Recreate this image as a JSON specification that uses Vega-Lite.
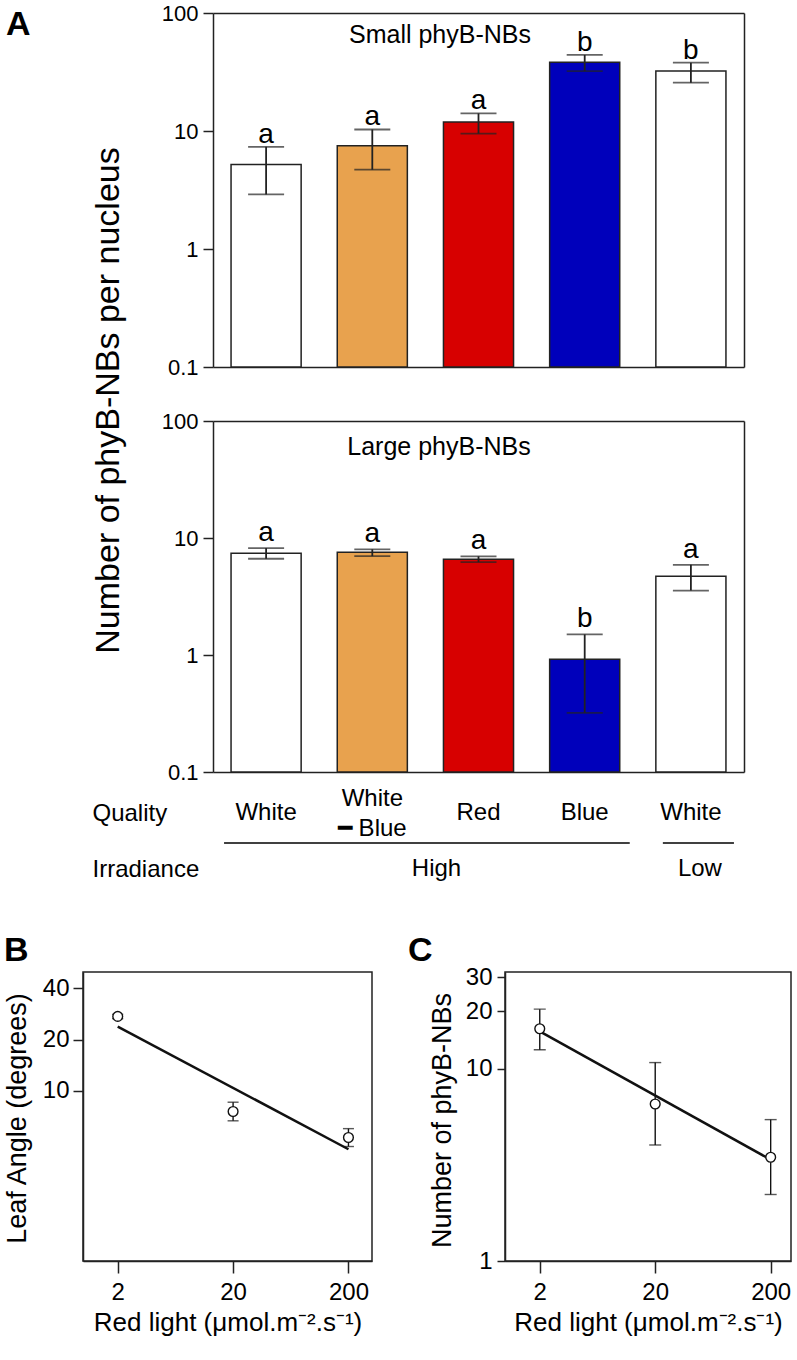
{
  "$schema": "https://vega.github.io/schema/vega-lite/v6.json",
  "background": "white",
  "padding": {"left": 2, "top": 2, "right": 5, "bottom": 5},
  "spacing": 54,
  "bounds": "flush",
  "datasets": {
    "small": [
      {"cond": "White (High)", "mean": 5.2, "lo": 2.9, "hi": 7.35, "letter": "a"},
      {"cond": "White−Blue", "mean": 7.5, "lo": 4.7, "hi": 10.3, "letter": "a"},
      {"cond": "Red", "mean": 11.9, "lo": 9.5, "hi": 14.1, "letter": "a"},
      {"cond": "Blue", "mean": 38.2, "lo": 32.2, "hi": 44.1, "letter": "b"},
      {"cond": "White (Low)", "mean": 32.2, "lo": 25.7, "hi": 37.9, "letter": "b"}
    ],
    "large": [
      {"cond": "White (High)", "mean": 7.4, "lo": 6.65, "hi": 8.2, "letter": "a"},
      {"cond": "White−Blue", "mean": 7.55, "lo": 7.0, "hi": 8.0, "letter": "a"},
      {"cond": "Red", "mean": 6.58, "lo": 6.23, "hi": 6.97, "letter": "a"},
      {"cond": "Blue", "mean": 0.92, "lo": 0.32, "hi": 1.5, "letter": "b"},
      {"cond": "White (Low)", "mean": 4.7, "lo": 3.55, "hi": 5.9, "letter": "a"}
    ],
    "quality": [
      {"row": "Quality", "cond": "White (High)", "label": "White"},
      {"row": "Quality", "cond": "White−Blue", "label": "White\n━ Blue"},
      {"row": "Quality", "cond": "Red", "label": "Red"},
      {"row": "Quality", "cond": "Blue", "label": "Blue"},
      {"row": "Quality", "cond": "White (Low)", "label": "White"}
    ],
    "leaf": [
      {"light": 2, "angle": 27.4, "lo": 26.6, "hi": 28.2},
      {"light": 20, "angle": 7.57, "lo": 6.67, "hi": 8.58},
      {"light": 200, "angle": 5.32, "lo": 4.71, "hi": 6.0}
    ],
    "leaffit": [
      {"light": 2, "angle": 23.9},
      {"light": 200, "angle": 4.54}
    ],
    "nbs": [
      {"light": 2, "n": 16.2, "lo": 12.6, "hi": 20.5},
      {"light": 20, "n": 6.57, "lo": 4.02, "hi": 10.8},
      {"light": 200, "n": 3.47, "lo": 2.22, "hi": 5.45}
    ],
    "nbsfit": [
      {"light": 2, "n": 15.7},
      {"light": 200, "n": 3.37}
    ]
  },
  "vconcat": [
    {
      "width": 661, "height": 354,
      "view": {"stroke": null},
      "data": {"name": "small"},
      "resolve": {"axis": {"x": "independent", "y": "independent"}},
      "layer": [
        {
          "mark": {"type": "bar", "stroke": "#222", "strokeWidth": 1.5},
          "encoding": {
            "x": {"field": "cond", "type": "nominal", "sort": null, "scale": {"domain": ["White (High)", "White−Blue", "Red", "Blue", "White (Low)"], "range": [130, 661], "paddingInner": 0.34, "paddingOuter": 0.17},
              "axis": {"orient": "bottom", "domain": true, "ticks": false, "labels": false, "title": null}},
            "y": {"field": "mean", "type": "quantitative", "scale": {"type": "log", "domain": [0.1, 100], "nice": false},
              "axis": {"orient": "left", "offset": -130, "values": [0.1, 1, 10, 100], "format": "~g", "tickSize": 10, "labelFontSize": 22, "labelPadding": 5,
                "title": "Number of phyB-NBs per nucleus", "titleFontSize": 34, "titleFontWeight": "normal", "titleColor": "black",
                "titleX": -95, "titleY": 387, "titleBaseline": "alphabetic", "titleAngle": 270, "titleAlign": "center"}},
            "y2": {"datum": 0.1},
            "fill": {"field": "cond", "type": "nominal", "scale": {"domain": ["White (High)", "White−Blue", "Red", "Blue", "White (Low)"], "range": ["#ffffff", "#E8A24E", "#D70000", "#0000BB", "#ffffff"]}, "legend": null}
          }
        },
        {
          "mark": {"type": "rule", "color": "#222", "strokeWidth": 1.8},
          "encoding": {
            "x": {"field": "cond", "type": "nominal", "sort": null, "axis": {"orient": "top", "domain": true, "ticks": false, "labels": false, "title": null}},
            "y": {"field": "lo", "type": "quantitative", "axis": {"orient": "right", "domain": true, "ticks": false, "labels": false, "title": null}},
            "y2": {"field": "hi"}
          }
        },
        {
          "mark": {"type": "tick", "orient": "horizontal", "size": 36, "thickness": 1.8, "color": "#222"},
          "encoding": {
            "x": {"field": "cond", "type": "nominal", "sort": null, "axis": null},
            "y": {"field": "hi", "type": "quantitative", "axis": null}
          }
        },
        {
          "mark": {"type": "tick", "orient": "horizontal", "size": 36, "thickness": 1.8, "color": "#222"},
          "encoding": {
            "x": {"field": "cond", "type": "nominal", "sort": null, "axis": null},
            "y": {"field": "lo", "type": "quantitative", "axis": null}
          }
        },
        {
          "mark": {"type": "text", "fontSize": 28, "baseline": "alphabetic", "yOffset": -4, "color": "black"},
          "encoding": {
            "x": {"field": "cond", "type": "nominal", "sort": null, "axis": null},
            "y": {"field": "hi", "type": "quantitative", "axis": null},
            "text": {"field": "letter"}
          }
        },
        {
          "data": {"values": [{"t": "Small phyB-NBs"}]},
          "mark": {"type": "text", "fontSize": 25, "baseline": "alphabetic", "align": "center", "xOffset": -38.5, "yOffset": 30.3, "color": "black"},
          "encoding": {
            "x": {"datum": "Red", "type": "nominal", "axis": null},
            "y": {"datum": 100, "type": "quantitative", "axis": null},
            "text": {"field": "t"}
          }
        },
        {
          "data": {"values": [{"t": "A"}]},
          "mark": {"type": "text", "fontSize": 34, "fontWeight": "bold", "baseline": "top", "align": "left", "xOffset": -260, "yOffset": -5.5, "color": "black"},
          "encoding": {
            "x": {"datum": "White (High)", "type": "nominal", "axis": null},
            "y": {"datum": 100, "type": "quantitative", "axis": null},
            "text": {"field": "t"}
          }
        }
      ]
    },
    {
      "width": 661, "height": 351,
      "view": {"stroke": null},
      "data": {"name": "large"},
      "resolve": {"axis": {"x": "independent", "y": "independent"}},
      "layer": [
        {
          "mark": {"type": "bar", "stroke": "#222", "strokeWidth": 1.5},
          "encoding": {
            "x": {"field": "cond", "type": "nominal", "sort": null, "scale": {"domain": ["White (High)", "White−Blue", "Red", "Blue", "White (Low)"], "range": [130, 661], "paddingInner": 0.34, "paddingOuter": 0.17},
              "axis": {"orient": "bottom", "domain": true, "ticks": false, "labels": false, "title": null}},
            "y": {"field": "mean", "type": "quantitative", "scale": {"type": "log", "domain": [0.1, 100], "nice": false},
              "axis": {"orient": "left", "offset": -130, "values": [0.1, 1, 10, 100], "format": "~g", "tickSize": 10, "labelFontSize": 22, "labelPadding": 5, "title": null}},
            "y2": {"datum": 0.1},
            "fill": {"field": "cond", "type": "nominal", "scale": {"domain": ["White (High)", "White−Blue", "Red", "Blue", "White (Low)"], "range": ["#ffffff", "#E8A24E", "#D70000", "#0000BB", "#ffffff"]}, "legend": null}
          }
        },
        {
          "mark": {"type": "rule", "color": "#222", "strokeWidth": 1.8},
          "encoding": {
            "x": {"field": "cond", "type": "nominal", "sort": null, "axis": {"orient": "top", "domain": true, "ticks": false, "labels": false, "title": null}},
            "y": {"field": "lo", "type": "quantitative", "axis": {"orient": "right", "domain": true, "ticks": false, "labels": false, "title": null}},
            "y2": {"field": "hi"}
          }
        },
        {
          "mark": {"type": "tick", "orient": "horizontal", "size": 36, "thickness": 1.8, "color": "#222"},
          "encoding": {
            "x": {"field": "cond", "type": "nominal", "sort": null, "axis": null},
            "y": {"field": "hi", "type": "quantitative", "axis": null}
          }
        },
        {
          "mark": {"type": "tick", "orient": "horizontal", "size": 36, "thickness": 1.8, "color": "#222"},
          "encoding": {
            "x": {"field": "cond", "type": "nominal", "sort": null, "axis": null},
            "y": {"field": "lo", "type": "quantitative", "axis": null}
          }
        },
        {
          "mark": {"type": "text", "fontSize": 28, "baseline": "alphabetic", "yOffset": -7, "color": "black"},
          "encoding": {
            "x": {"field": "cond", "type": "nominal", "sort": null, "axis": null},
            "y": {"field": "hi", "type": "quantitative", "axis": null},
            "text": {"field": "letter"}
          }
        },
        {
          "data": {"values": [{"t": "Large phyB-NBs"}]},
          "mark": {"type": "text", "fontSize": 25, "baseline": "alphabetic", "align": "center", "xOffset": -39.5, "yOffset": 34, "color": "black"},
          "encoding": {
            "x": {"datum": "Red", "type": "nominal", "axis": null},
            "y": {"datum": 100, "type": "quantitative", "axis": null},
            "text": {"field": "t"}
          }
        }
      ]
    },
    {
      "width": 661, "height": 92,
      "view": {"stroke": null},
      "layer": [
        {
          "data": {"name": "quality"},
          "transform": [{"filter": "datum.cond !== 'White−Blue'"}],
          "mark": {"type": "text", "fontSize": 24, "baseline": "middle", "color": "black"},
          "encoding": {
            "x": {"field": "cond", "type": "nominal", "sort": null, "scale": {"domain": ["White (High)", "White−Blue", "Red", "Blue", "White (Low)"], "range": [130, 661], "paddingInner": 0.34, "paddingOuter": 0.17}, "axis": null},
            "y": {"field": "row", "type": "nominal", "scale": {"type": "point", "domain": ["Quality", "Irradiance"], "range": [-13, 43], "padding": 0},
              "axis": {"domain": false, "ticks": false, "tickSize": 0, "offset": -9, "labelAlign": "left", "labelPadding": 0, "labelFontSize": 24, "labelColor": "black", "labelBaseline": "middle", "title": null, "grid": false}},
            "text": {"field": "label"}
          }
        },
        {
          "data": {"name": "quality"},
          "transform": [{"filter": "datum.cond === 'White−Blue'"}],
          "mark": {"type": "text", "fontSize": 24, "baseline": "middle", "lineBreak": "\n", "lineHeight": 30, "yOffset": -14, "color": "black"},
          "encoding": {
            "x": {"field": "cond", "type": "nominal", "sort": null},
            "y": {"field": "row", "type": "nominal"},
            "text": {"field": "label"}
          }
        },
        {
          "data": {"values": [{"group": "High", "start": "White (High)", "end": "Blue"}]},
          "mark": {"type": "rule", "color": "black", "strokeWidth": 1.5, "xOffset": -7, "x2Offset": 10, "yOffset": 30},
          "encoding": {
            "x": {"field": "start", "type": "nominal", "bandPosition": 0},
            "x2": {"field": "end", "bandPosition": 1},
            "y": {"datum": "Quality", "type": "nominal"}
          }
        },
        {
          "data": {"values": [{"group": "Low", "start": "White (Low)", "end": "White (Low)"}]},
          "mark": {"type": "rule", "color": "black", "strokeWidth": 1.5, "xOffset": 7, "x2Offset": 8, "yOffset": 30},
          "encoding": {
            "x": {"field": "start", "type": "nominal", "bandPosition": 0},
            "x2": {"field": "end", "bandPosition": 1},
            "y": {"datum": "Quality", "type": "nominal"}
          }
        },
        {
          "data": {"values": [{"row": "Irradiance", "label": "High"}]},
          "mark": {"type": "text", "fontSize": 24, "baseline": "middle", "xOffset": -42, "color": "black"},
          "encoding": {
            "x": {"datum": "Red", "type": "nominal"},
            "y": {"field": "row", "type": "nominal"},
            "text": {"field": "label"}
          }
        },
        {
          "data": {"values": [{"row": "Irradiance", "label": "Low"}]},
          "mark": {"type": "text", "fontSize": 24, "baseline": "middle", "xOffset": 9, "color": "black"},
          "encoding": {
            "x": {"datum": "White (Low)", "type": "nominal"},
            "y": {"field": "row", "type": "nominal"},
            "text": {"field": "label"}
          }
        }
      ]
    },
    {
      "hconcat": [
        {
          "width": 289, "height": 289,
          "layer": [
            {
              "data": {"name": "leaffit"},
              "mark": {"type": "line", "color": "#111", "strokeWidth": 2.5},
              "encoding": {
                "x": {"field": "light", "type": "quantitative", "scale": {"type": "log", "domain": [1, 320], "nice": false},
                  "axis": {"values": [2, 20, 200], "format": "~g", "tickSize": 12, "labelFontSize": 24, "labelPadding": 7, "labelFlush": false,
                    "title": "Red light (μmol.m⁻².s⁻¹)", "titleFontSize": 26, "titleFontWeight": "normal", "titleColor": "black", "titleY": 69, "titleBaseline": "alphabetic"}},
                "y": {"field": "angle", "type": "quantitative", "scale": {"type": "log", "domain": [1, 50], "nice": false},
                  "axis": {"values": [10, 20, 40], "format": "~g", "tickSize": 10, "labelFontSize": 24, "labelPadding": 4,
                    "title": "Leaf Angle (degrees)", "titleFontSize": 27, "titleFontWeight": "normal", "titleColor": "black", "titleX": -58, "titleY": 146, "titleBaseline": "alphabetic", "titleAngle": 270}}
              }
            },
            {
              "data": {"name": "leaf"},
              "mark": {"type": "rule", "color": "#111", "strokeWidth": 1.4},
              "encoding": {
                "x": {"field": "light", "type": "quantitative"},
                "y": {"field": "lo", "type": "quantitative"},
                "y2": {"field": "hi"}
              }
            },
            {
              "data": {"name": "leaf"},
              "mark": {"type": "tick", "orient": "horizontal", "size": 11, "thickness": 1.4, "color": "#111"},
              "encoding": {
                "x": {"field": "light", "type": "quantitative"},
                "y": {"field": "hi", "type": "quantitative"}
              }
            },
            {
              "data": {"name": "leaf"},
              "mark": {"type": "tick", "orient": "horizontal", "size": 11, "thickness": 1.4, "color": "#111"},
              "encoding": {
                "x": {"field": "light", "type": "quantitative"},
                "y": {"field": "lo", "type": "quantitative"}
              }
            },
            {
              "data": {"name": "leaf"},
              "mark": {"type": "point", "shape": "circle", "filled": true, "fill": "white", "stroke": "#111", "strokeWidth": 1.4, "size": 95, "opacity": 1},
              "encoding": {
                "x": {"field": "light", "type": "quantitative"},
                "y": {"field": "angle", "type": "quantitative"}
              }
            },
            {
              "data": {"values": [{"t": "B"}]},
              "mark": {"type": "text", "fontSize": 34, "fontWeight": "bold", "baseline": "top", "align": "left", "xOffset": -79, "yOffset": -38.5, "color": "black"},
              "encoding": {
                "x": {"datum": 1, "type": "quantitative"},
                "y": {"datum": 50, "type": "quantitative"},
                "text": {"field": "t"}
              }
            }
          ]
        },
        {
          "width": 286, "height": 289,
          "layer": [
            {
              "data": {"name": "nbsfit"},
              "mark": {"type": "line", "color": "#111", "strokeWidth": 2.5},
              "encoding": {
                "x": {"field": "light", "type": "quantitative", "scale": {"type": "log", "domain": [1, 300], "nice": false},
                  "axis": {"values": [2, 20, 200], "format": "~g", "tickSize": 12, "labelFontSize": 24, "labelPadding": 7, "labelFlush": false,
                    "title": "Red light (μmol.m⁻².s⁻¹)", "titleFontSize": 26, "titleFontWeight": "normal", "titleColor": "black", "titleY": 69, "titleBaseline": "alphabetic"}},
                "y": {"field": "n", "type": "quantitative", "scale": {"type": "log", "domain": [1, 32], "nice": false},
                  "axis": {"values": [1, 10, 20, 30], "format": "~g", "tickSize": 8, "labelFontSize": 24, "labelPadding": 5,
                    "title": "Number of phyB-NBs", "titleFontSize": 27, "titleFontWeight": "normal", "titleColor": "black", "titleX": -55, "titleY": 148, "titleBaseline": "alphabetic", "titleAngle": 270}}
              }
            },
            {
              "data": {"name": "nbs"},
              "mark": {"type": "rule", "color": "#111", "strokeWidth": 1.4},
              "encoding": {
                "x": {"field": "light", "type": "quantitative"},
                "y": {"field": "lo", "type": "quantitative"},
                "y2": {"field": "hi"}
              }
            },
            {
              "data": {"name": "nbs"},
              "mark": {"type": "tick", "orient": "horizontal", "size": 12, "thickness": 1.4, "color": "#111"},
              "encoding": {
                "x": {"field": "light", "type": "quantitative"},
                "y": {"field": "hi", "type": "quantitative"}
              }
            },
            {
              "data": {"name": "nbs"},
              "mark": {"type": "tick", "orient": "horizontal", "size": 12, "thickness": 1.4, "color": "#111"},
              "encoding": {
                "x": {"field": "light", "type": "quantitative"},
                "y": {"field": "lo", "type": "quantitative"}
              }
            },
            {
              "data": {"name": "nbs"},
              "mark": {"type": "point", "shape": "circle", "filled": true, "fill": "white", "stroke": "#111", "strokeWidth": 1.4, "size": 95, "opacity": 1},
              "encoding": {
                "x": {"field": "light", "type": "quantitative"},
                "y": {"field": "n", "type": "quantitative"}
              }
            },
            {
              "data": {"values": [{"t": "C"}]},
              "mark": {"type": "text", "fontSize": 34, "fontWeight": "bold", "baseline": "top", "align": "left", "xOffset": -97, "yOffset": -38.5, "color": "black"},
              "encoding": {
                "x": {"datum": 1, "type": "quantitative"},
                "y": {"datum": 32, "type": "quantitative"},
                "text": {"field": "t"}
              }
            }
          ]
        }
      ],
      "spacing": 133,
      "bounds": "flush"
    }
  ],
  "config": {
    "font": "Liberation Sans",
    "view": {"stroke": "#222", "strokeWidth": 1.5},
    "axis": {"grid": false, "labelColor": "black", "tickColor": "#222", "domainColor": "#222", "tickWidth": 1.5, "domainWidth": 1.5, "labelFont": "Liberation Sans", "titleFont": "Liberation Sans"},
    "text": {"font": "Liberation Sans"}
  }
}
